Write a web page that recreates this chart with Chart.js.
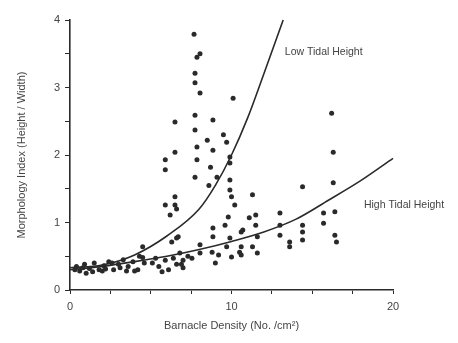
<!DOCTYPE html>
<html>
<head>
<meta charset="utf-8">
<script src="https://cdn.jsdelivr.net/npm/chart.js@4"></script>
<style>
html,body{margin:0;padding:0;background:#fff;}
#wrap{width:458px;height:343px;position:relative;}
</style>
</head>
<body>
<div id="wrap"><canvas id="c" width="458" height="343"></canvas></div>
<script>
// ---- data ----
const xTickLabels = ["0", "10", "20"];
const yTickLabels = ["0", "1", "2", "3", "4"];

const obsX = [0.4,0.6,0.9,1.2,1.5,1.8,2.1,2.4,2.7,3.0,3.3,3.6,3.9,4.2,4.5,4.5,4.6,1.0,2.0,3.5,
  0.3,0.8,1.4,2.6,3.1,4.0,4.3,2.2,
  5.3,5.5,5.9,6.1,6.4,6.6,7.0,7.0,7.55,7.3,5.1,6.8,5.7,6.9,
  5.9,5.9,6.5,6.5,6.5,6.5,5.9,6.2,6.6,6.3,6.7,6.6,
  7.68,7.86,8.05,7.74,7.74,8.05,7.74,7.74,7.86,7.86,7.74,8.05,8.05,
  8.85,8.5,8.85,8.7,9.1,8.85,8.85,8.8,9.2,9.0,8.6,
  10.1,9.5,9.7,9.9,9.9,9.9,9.9,10.0,10.2,9.8,9.6,9.9,9.7,10.0,
  10.6,10.5,11.3,11.1,11.3,11.5,11.5,11.6,11.6,10.7,10.6,10.6,
  13.0,13.0,13.0,13.6,13.6,
  14.4,14.4,14.4,14.4,
  16.3,16.4,15.7,15.7,16.4,16.5,16.2,16.3];
const obsY = [0.35,0.28,0.38,0.32,0.40,0.30,0.36,0.42,0.30,0.38,0.45,0.35,0.42,0.30,0.48,0.64,0.40,0.25,0.28,0.28,
  0.30,0.33,0.27,0.40,0.33,0.28,0.50,0.31,
  0.47,0.35,0.44,0.30,0.47,0.38,0.44,0.33,0.47,0.50,0.40,0.55,0.27,0.38,
  1.93,1.78,2.49,2.04,1.38,1.26,1.26,1.11,0.77,0.71,0.79,1.20,
  3.79,3.45,3.50,3.21,3.07,2.92,2.59,2.37,2.12,1.93,1.67,0.67,0.55,
  2.52,2.22,2.07,1.82,1.67,0.92,0.79,0.56,0.52,0.40,1.55,
  2.84,2.30,2.19,1.97,1.88,1.63,1.48,1.38,1.26,1.08,0.96,0.77,0.64,0.49,
  0.86,0.56,1.41,1.07,0.64,1.11,0.96,0.79,0.55,0.89,0.64,0.52,
  1.14,0.96,0.81,0.71,0.64,
  1.53,0.96,0.86,0.74,
  1.59,1.16,1.14,0.99,0.81,0.71,2.62,2.04];

// fitted curves, points
const lowX = [0.0,2,4,6,8,9,10,11,12,13.2];
const lowY = [0.33,0.37,0.52,0.80,1.20,1.55,2.00,2.55,3.20,4.00];
const highX = [0.0,2,4,6,8,10,12,14,16,18,20];
const highY = [0.30,0.35,0.42,0.50,0.60,0.72,0.86,1.05,1.33,1.62,1.95];

const lowLabel = "Low Tidal Height";
const highLabel = "High Tidal Height";
const xTitle = "Barnacle Density (No. /cm²)";
const yTitle = "Morphology Index (Height / Width)";

// ---- build ----
const toPts = (xs, ys) => xs.map((x, i) => ({x: x, y: ys[i]}));
const ink = "#2a2a2a";
const textCol = "#444";
const fam = "'Liberation Sans', Arial, sans-serif";

const labelPlugin = {
  id: "curveLabels",
  afterDatasetsDraw(chart) {
    const {ctx, scales} = chart;
    ctx.save();
    ctx.fillStyle = textCol;
    ctx.font = "10.5px " + fam;
    ctx.textBaseline = "middle";
    ctx.textAlign = "left";
    ctx.fillText(lowLabel, scales.x.getPixelForValue(13.3), scales.y.getPixelForValue(3.53));
    ctx.fillText(highLabel, scales.x.getPixelForValue(18.2), scales.y.getPixelForValue(1.26));
    ctx.restore();
  }
};

new Chart(document.getElementById("c"), {
  type: "scatter",
  data: {
    datasets: [
      {data: toPts(obsX, obsY), pointRadius: 2.5, pointBackgroundColor: ink, pointBorderWidth: 0, showLine: false},
      {data: toPts(lowX, lowY), showLine: true, pointRadius: 0, borderColor: ink, borderWidth: 1.6, cubicInterpolationMode: "monotone"},
      {data: toPts(highX, highY), showLine: true, pointRadius: 0, borderColor: ink, borderWidth: 1.6, cubicInterpolationMode: "monotone"}
    ]
  },
  options: {
    responsive: false,
    animation: false,
    clip: false,
    layout: {padding: {left: 0, right: 65, top: 20, bottom: 0}},
    plugins: {legend: {display: false}, tooltip: {enabled: false}},
    scales: {
      x: {
        type: "linear", min: 0, max: 20,
        afterFit(s) { s.height = 53; },
        border: {display: true, color: ink, width: 1.6},
        grid: {display: true, drawOnChartArea: false, color: ink, tickLength: 4},
        ticks: {
          stepSize: 2.5, color: textCol, font: {size: 11, family: fam}, padding: 6, maxRotation: 0,
          autoSkip: false,
          callback: (v) => (v % 10 === 0 ? xTickLabels[v / 10] : "")
        },
        title: {display: true, text: xTitle, color: textCol, font: {size: 11, family: fam}, padding: {top: 0, bottom: 10}}
      },
      y: {
        type: "linear", min: 0, max: 4,
        afterFit(s) { s.width = 70; },
        border: {display: true, color: ink, width: 1.6},
        grid: {display: true, drawOnChartArea: false, color: ink, tickLength: 5},
        ticks: {
          stepSize: 0.5, color: textCol, font: {size: 11, family: fam}, padding: 5, autoSkip: false,
          callback: (v) => (Number.isInteger(v) ? yTickLabels[v] : "")
        },
        title: {display: true, text: yTitle, color: textCol, font: {size: 11, family: fam}, padding: {top: 15, bottom: 0}}
      }
    }
  },
  plugins: [labelPlugin]
});
</script>
</body>
</html>
